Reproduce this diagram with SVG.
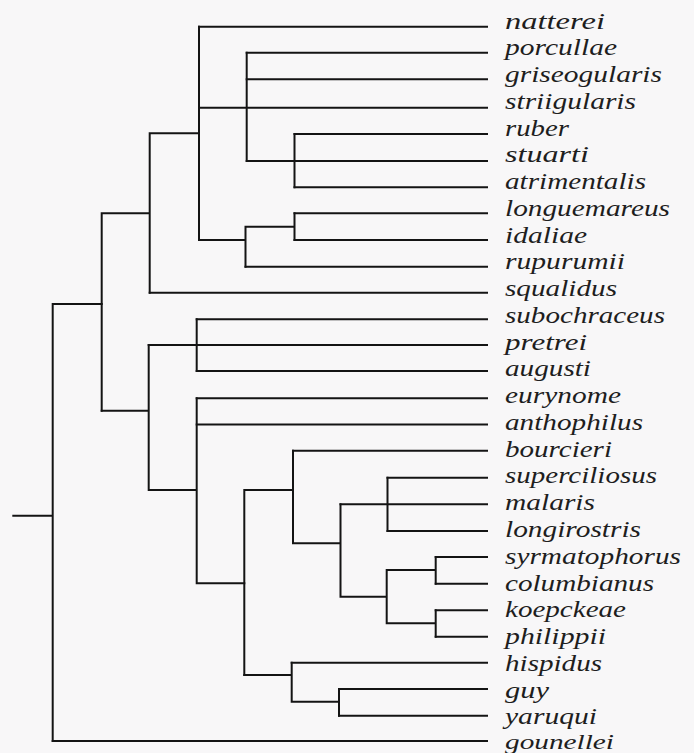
<svg xmlns="http://www.w3.org/2000/svg" width="694" height="753" viewBox="0 0 694 753">
<style>
.bg{fill:#f8f7f8}
.c{fill:none;stroke:#141414;stroke-width:2;stroke-linecap:square}
text{font-family:'Liberation Serif','DejaVu Serif',serif;font-style:italic;font-size:24px;fill:#1e1e1e}
</style>
<rect class="bg" x="0" y="0" width="694" height="753"/>
<g id="connectors" class="c">
<path d="M13.3,515.7H52.7M52.7,304V741M52.7,304H101.7"/>
<path d="M101.7,213.3V410.7M101.7,213.3H149.7M149.7,133.3V292.7M149.7,133.3H199"/>
<path d="M199,26.7V240M199,240H245.5M245.5,226.7V266.7M245.5,226.7H294.5M294.5,213.3V240"/>
<path d="M246.7,52.7V161M294.5,134V187.3"/>
<path d="M101.7,410.7H148.7M148.7,345V490M196.7,319.3V371M148.7,490H196.7M196.7,398.3V583.3M196.7,583.3H244.3"/>
<path d="M244.3,490V675M244.3,490H293M293,450.7V543.3M293,543.3H340.5M340.5,504.3V596.7M387.5,477.7V531M340.5,596.7H386.7M386.7,570V623.3M386.7,570H435.7M386.7,623.3H435.7M435.7,557V583.7M435.7,610.3V636.7"/>
<path d="M244.3,675H291.7M291.7,662.7V701.7M291.7,701.7H339M339,689V715.7"/>
<path d="M199,26.7H487M246.7,52.7H487M246.7,79.3H487M199,107.7H487M294.5,134H487M246.7,161H487M294.5,187.3H487M294.5,213.3H487M294.5,240H487M245.5,266.7H487M149.7,292.7H487M196.7,319.3H487M148.7,345H487M196.7,371H487M196.7,398.3H487M196.7,424.5H487M293,450.7H487M387.5,477.7H487M340.5,504.3H487M387.5,531H487M435.7,557H487M435.7,583.7H487M435.7,610.3H487M435.7,636.7H487M291.7,662.7H487M339,689H487M339,715.7H487M52.7,741H487"/>
</g>
<g font-family="Liberation Serif, DejaVu Serif, serif" font-style="italic">
<g id="natterei"><text x="505" y="28.5" textLength="100" lengthAdjust="spacingAndGlyphs">natterei</text></g>
<g id="porcullae"><text x="505" y="55.3" textLength="112" lengthAdjust="spacingAndGlyphs">porcullae</text></g>
<g id="griseogularis"><text x="505" y="82" textLength="157" lengthAdjust="spacingAndGlyphs">griseogularis</text></g>
<g id="striigularis"><text x="505" y="108.8" textLength="131" lengthAdjust="spacingAndGlyphs">striigularis</text></g>
<g id="ruber"><text x="505" y="135.5" textLength="64" lengthAdjust="spacingAndGlyphs">ruber</text></g>
<g id="stuarti"><text x="505" y="162.3" textLength="84" lengthAdjust="spacingAndGlyphs">stuarti</text></g>
<g id="atrimentalis"><text x="505" y="189.1" textLength="141" lengthAdjust="spacingAndGlyphs">atrimentalis</text></g>
<g id="longuemareus"><text x="505" y="215.8" textLength="165" lengthAdjust="spacingAndGlyphs">longuemareus</text></g>
<g id="idaliae"><text x="505" y="242.6" textLength="82" lengthAdjust="spacingAndGlyphs">idaliae</text></g>
<g id="rupurumii"><text x="505" y="269.3" textLength="120" lengthAdjust="spacingAndGlyphs">rupurumii</text></g>
<g id="squalidus"><text x="505" y="296.1" textLength="112" lengthAdjust="spacingAndGlyphs">squalidus</text></g>
<g id="subochraceus"><text x="505" y="322.9" textLength="160" lengthAdjust="spacingAndGlyphs">subochraceus</text></g>
<g id="pretrei"><text x="505" y="349.6" textLength="82" lengthAdjust="spacingAndGlyphs">pretrei</text></g>
<g id="augusti"><text x="505" y="376.4" textLength="86" lengthAdjust="spacingAndGlyphs">augusti</text></g>
<g id="eurynome"><text x="505" y="403.1" textLength="116" lengthAdjust="spacingAndGlyphs">eurynome</text></g>
<g id="anthophilus"><text x="505" y="429.9" textLength="138" lengthAdjust="spacingAndGlyphs">anthophilus</text></g>
<g id="bourcieri"><text x="505" y="456.7" textLength="107" lengthAdjust="spacingAndGlyphs">bourcieri</text></g>
<g id="superciliosus"><text x="505" y="483.4" textLength="152" lengthAdjust="spacingAndGlyphs">superciliosus</text></g>
<g id="malaris"><text x="505" y="510.2" textLength="90" lengthAdjust="spacingAndGlyphs">malaris</text></g>
<g id="longirostris"><text x="505" y="536.9" textLength="136" lengthAdjust="spacingAndGlyphs">longirostris</text></g>
<g id="syrmatophorus"><text x="505" y="563.7" textLength="176" lengthAdjust="spacingAndGlyphs">syrmatophorus</text></g>
<g id="columbianus"><text x="505" y="590.5" textLength="149" lengthAdjust="spacingAndGlyphs">columbianus</text></g>
<g id="koepckeae"><text x="505" y="617.2" textLength="121" lengthAdjust="spacingAndGlyphs">koepckeae</text></g>
<g id="philippii"><text x="505" y="644" textLength="101" lengthAdjust="spacingAndGlyphs">philippii</text></g>
<g id="hispidus"><text x="505" y="670.7" textLength="97" lengthAdjust="spacingAndGlyphs">hispidus</text></g>
<g id="guy"><text x="505" y="697.5" textLength="44" lengthAdjust="spacingAndGlyphs">guy</text></g>
<g id="yaruqui"><text x="505" y="723.8" textLength="92" lengthAdjust="spacingAndGlyphs">yaruqui</text></g>
<g id="gounellei"><text x="505" y="748.5" style="font-size:21px" textLength="109" lengthAdjust="spacingAndGlyphs">gounellei</text></g>
</g>
</svg>
